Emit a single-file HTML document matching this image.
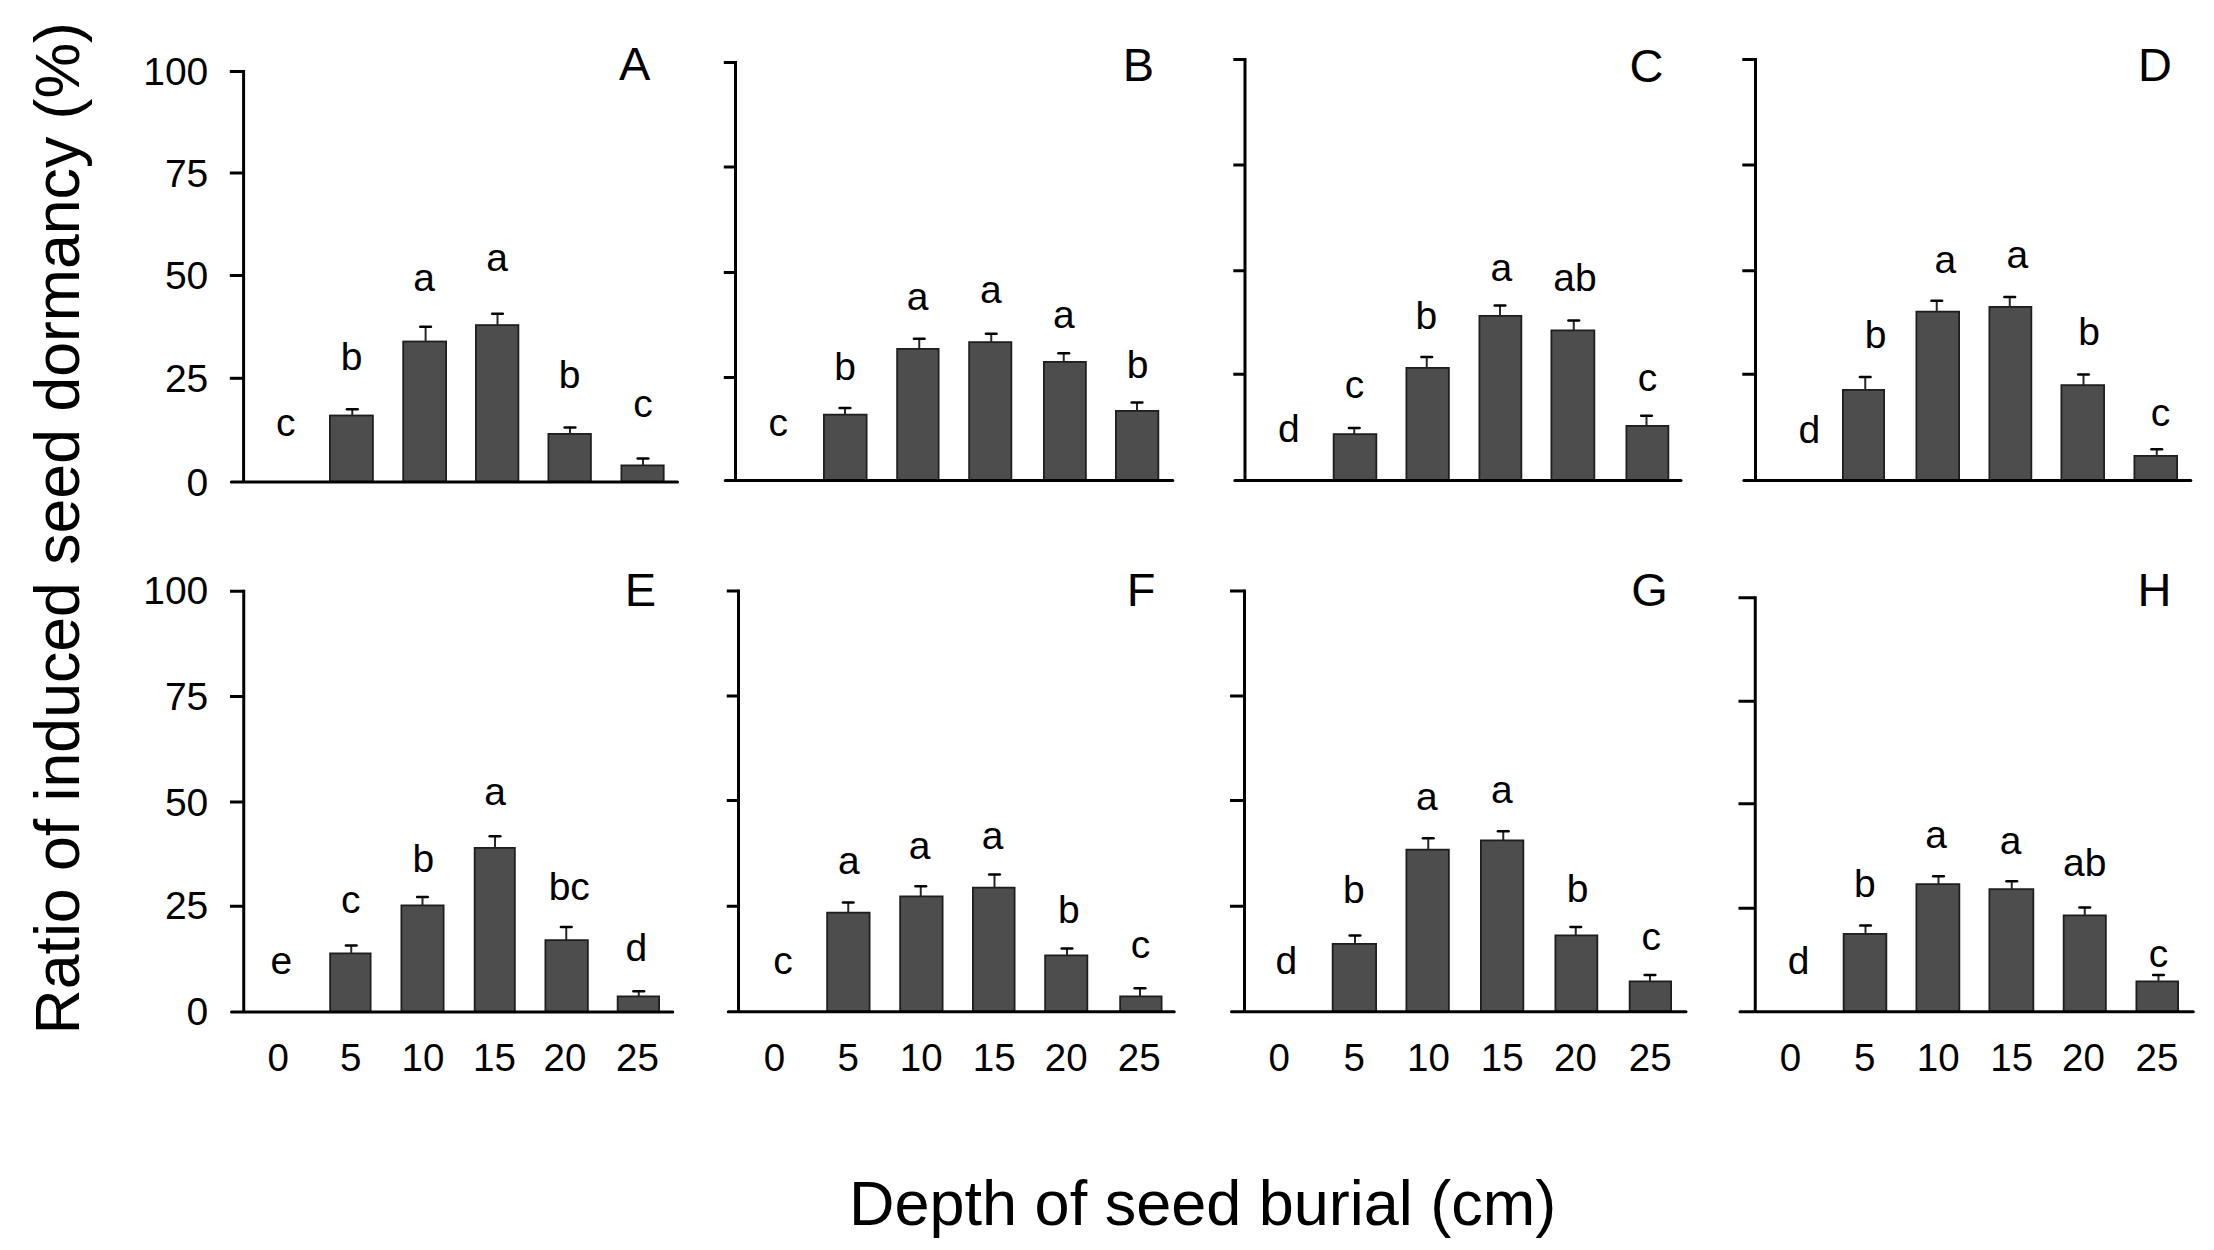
<!DOCTYPE html>
<html lang="en"><head><meta charset="utf-8"><title>Ratio of induced seed dormancy vs depth of seed burial</title>
<style>html,body{margin:0;padding:0;background:#fff;}body{width:2214px;height:1250px;overflow:hidden;}svg{display:block;}text{font-family:"Liberation Sans",Arial,Helvetica,sans-serif;fill:#000;}.ax{stroke:#000;stroke-width:3;fill:none;stroke-linecap:butt;}.xax{stroke:#000;stroke-width:3;fill:none;stroke-linecap:round;}.bar{fill:#4d4d4d;stroke:#1e1e1e;stroke-width:1.8;}.es{stroke:#262626;stroke-width:2;fill:none;}.ec{stroke:#000;stroke-width:2.6;fill:none;stroke-linecap:round;}.sl{font-size:39px;text-anchor:middle;}.tl{font-size:39px;text-anchor:end;}.xl{font-size:38.5px;text-anchor:middle;}.pl{font-size:47px;text-anchor:middle;}.at{font-size:63px;}</style></head><body>
<svg width="2214" height="1250" viewBox="0 0 2214 1250">
<rect x="0" y="0" width="2214" height="1250" fill="#ffffff"/>
<g id="panel-A">
<rect class="bar" x="329.9" y="415.5" width="43" height="66.5"/>
<rect class="bar" x="403.2" y="341.5" width="42.9" height="140.5"/>
<rect class="bar" x="475.9" y="325.1" width="42.5" height="156.9"/>
<rect class="bar" x="548.4" y="433.9" width="42.5" height="48.1"/>
<rect class="bar" x="621.4" y="465.4" width="42.3" height="16.6"/>
<path class="es" d="M352.3 409.3V415.6"/>
<path class="ec" d="M347 409.3H357.6"/>
<path class="es" d="M425.6 326.8V341.6"/>
<path class="ec" d="M420.3 326.8H430.9"/>
<path class="es" d="M497.5 313.8V325.2"/>
<path class="ec" d="M492.2 313.8H502.8"/>
<path class="es" d="M570 427.5V434"/>
<path class="ec" d="M564.7 427.5H575.3"/>
<path class="es" d="M643 458.5V465.5"/>
<path class="ec" d="M637.7 458.5H648.3"/>
<path class="ax" d="M243.6 70V482"/>
<path class="xax" d="M231.3 482H677.5"/>
<path class="ax" d="M229.8 71.5H243.6"/>
<path class="ax" d="M229.8 173H243.6"/>
<path class="ax" d="M229.8 275.5H243.6"/>
<path class="ax" d="M229.8 378.3H243.6"/>
<text class="sl" x="285.75" y="435.5">c</text>
<text class="sl" x="351.5" y="370">b</text>
<text class="sl" x="424" y="290.5">a</text>
<text class="sl" x="497" y="270.5">a</text>
<text class="sl" x="569.5" y="388">b</text>
<text class="sl" x="643" y="417">c</text>
</g>
<g id="panel-B">
<rect class="bar" x="823.9" y="414.65" width="42.7" height="65.95"/>
<rect class="bar" x="897.15" y="348.9" width="41.45" height="131.7"/>
<rect class="bar" x="969.15" y="342.15" width="42.2" height="138.45"/>
<rect class="bar" x="1043.9" y="361.9" width="41.95" height="118.7"/>
<rect class="bar" x="1115.9" y="410.9" width="42.45" height="69.7"/>
<path class="es" d="M845 408V414.75"/>
<path class="ec" d="M839.7 408H850.3"/>
<path class="es" d="M919.25 338.75V349"/>
<path class="ec" d="M913.95 338.75H924.55"/>
<path class="es" d="M991.25 333.75V342.25"/>
<path class="ec" d="M985.95 333.75H996.55"/>
<path class="es" d="M1063.75 353.25V362"/>
<path class="ec" d="M1058.45 353.25H1069.05"/>
<path class="es" d="M1137 402.5V411"/>
<path class="ec" d="M1131.7 402.5H1142.3"/>
<path class="ax" d="M735.5 61V480.6"/>
<path class="xax" d="M725.3 480.6H1172.8"/>
<path class="ax" d="M723.8 62.5H735.5"/>
<path class="ax" d="M723.8 167H735.5"/>
<path class="ax" d="M723.8 272.5H735.5"/>
<path class="ax" d="M723.8 377.5H735.5"/>
<text class="sl" x="778.25" y="436.25">c</text>
<text class="sl" x="845" y="379.5">b</text>
<text class="sl" x="917.5" y="310">a</text>
<text class="sl" x="990.75" y="303.25">a</text>
<text class="sl" x="1063.75" y="328.25">a</text>
<text class="sl" x="1137.5" y="378.25">b</text>
</g>
<g id="panel-C">
<rect class="bar" x="1333.65" y="434.15" width="42.7" height="46.45"/>
<rect class="bar" x="1406.4" y="367.9" width="42.45" height="112.7"/>
<rect class="bar" x="1479.4" y="315.9" width="41.95" height="164.7"/>
<rect class="bar" x="1551.4" y="330.4" width="42.95" height="150.2"/>
<rect class="bar" x="1626.4" y="425.9" width="41.95" height="54.7"/>
<path class="es" d="M1354.25 428V434.25"/>
<path class="ec" d="M1348.95 428H1359.55"/>
<path class="es" d="M1426.75 357V368"/>
<path class="ec" d="M1421.45 357H1432.05"/>
<path class="es" d="M1500 305.5V316"/>
<path class="ec" d="M1494.7 305.5H1505.3"/>
<path class="es" d="M1573.75 320.5V330.5"/>
<path class="ec" d="M1568.45 320.5H1579.05"/>
<path class="es" d="M1646.5 415.75V426"/>
<path class="ec" d="M1641.2 415.75H1651.8"/>
<path class="ax" d="M1245 58V480.6"/>
<path class="xax" d="M1234.8 480.6H1681"/>
<path class="ax" d="M1233.3 59.5H1245"/>
<path class="ax" d="M1233.3 165H1245"/>
<path class="ax" d="M1233.3 270.75H1245"/>
<path class="ax" d="M1233.3 374.25H1245"/>
<text class="sl" x="1288.75" y="442">d</text>
<text class="sl" x="1354.5" y="398">c</text>
<text class="sl" x="1426.25" y="328.75">b</text>
<text class="sl" x="1501.25" y="280.5">a</text>
<text class="sl" x="1575" y="291.25">ab</text>
<text class="sl" x="1647.5" y="391.25">c</text>
</g>
<g id="panel-D">
<rect class="bar" x="1842.9" y="389.9" width="41.2" height="90.7"/>
<rect class="bar" x="1916.4" y="311.65" width="42.7" height="168.95"/>
<rect class="bar" x="1989.4" y="306.9" width="41.95" height="173.7"/>
<rect class="bar" x="2061.4" y="385.15" width="42.7" height="95.45"/>
<rect class="bar" x="2134.4" y="455.9" width="42.7" height="24.7"/>
<path class="es" d="M1865.25 377V390"/>
<path class="ec" d="M1859.95 377H1870.55"/>
<path class="es" d="M1936.75 300.75V311.75"/>
<path class="ec" d="M1931.45 300.75H1942.05"/>
<path class="es" d="M2009.75 297V307"/>
<path class="ec" d="M2004.45 297H2015.05"/>
<path class="es" d="M2083.5 374.5V385.25"/>
<path class="ec" d="M2078.2 374.5H2088.8"/>
<path class="es" d="M2156.75 449.25V456"/>
<path class="ec" d="M2151.45 449.25H2162.05"/>
<path class="ax" d="M1755.5 58V480.6"/>
<path class="xax" d="M1743.8 480.6H2190.8"/>
<path class="ax" d="M1742.3 59.5H1755.5"/>
<path class="ax" d="M1742.3 165H1755.5"/>
<path class="ax" d="M1742.3 270.75H1755.5"/>
<path class="ax" d="M1742.3 374.25H1755.5"/>
<text class="sl" x="1809.25" y="443.25">d</text>
<text class="sl" x="1875.5" y="347.5">b</text>
<text class="sl" x="1945.25" y="273.25">a</text>
<text class="sl" x="2017.25" y="268.25">a</text>
<text class="sl" x="2089" y="344.5">b</text>
<text class="sl" x="2160.5" y="425.75">c</text>
</g>
<g id="panel-E">
<rect class="bar" x="330.15" y="953.4" width="40.45" height="58.6"/>
<rect class="bar" x="401.4" y="905.4" width="42.2" height="106.6"/>
<rect class="bar" x="474.65" y="847.9" width="40.2" height="164.1"/>
<rect class="bar" x="545.4" y="940.15" width="42.45" height="71.85"/>
<rect class="bar" x="617.65" y="996.4" width="41.45" height="15.6"/>
<path class="es" d="M351.25 945.5V953.5"/>
<path class="ec" d="M345.95 945.5H356.55"/>
<path class="es" d="M422.5 897V905.5"/>
<path class="ec" d="M417.2 897H427.8"/>
<path class="es" d="M495 836.25V848"/>
<path class="ec" d="M489.7 836.25H500.3"/>
<path class="es" d="M566.25 927V940.25"/>
<path class="ec" d="M560.95 927H571.55"/>
<path class="es" d="M638.75 991.25V996.5"/>
<path class="ec" d="M633.45 991.25H644.05"/>
<path class="ax" d="M243.75 589.75V1012"/>
<path class="xax" d="M231.5 1012H672.75"/>
<path class="ax" d="M230 591.25H243.75"/>
<path class="ax" d="M230 696.5H243.75"/>
<path class="ax" d="M230 802H243.75"/>
<path class="ax" d="M230 906.25H243.75"/>
<text class="sl" x="281.25" y="973.75">e</text>
<text class="sl" x="350.75" y="912.5">c</text>
<text class="sl" x="423.25" y="872">b</text>
<text class="sl" x="495" y="804.5">a</text>
<text class="sl" x="569.25" y="900">bc</text>
<text class="sl" x="636.25" y="960.5">d</text>
<text class="xl" x="278.25" y="1071.3">0</text>
<text class="xl" x="350.75" y="1071.3">5</text>
<text class="xl" x="423" y="1071.3">10</text>
<text class="xl" x="494.5" y="1071.3">15</text>
<text class="xl" x="565" y="1071.3">20</text>
<text class="xl" x="637.5" y="1071.3">25</text>
</g>
<g id="panel-F">
<rect class="bar" x="827.15" y="912.65" width="42.45" height="99.1"/>
<rect class="bar" x="900.15" y="896.4" width="42.45" height="115.35"/>
<rect class="bar" x="972.9" y="887.65" width="41.7" height="124.1"/>
<rect class="bar" x="1045.15" y="955.4" width="42.2" height="56.35"/>
<rect class="bar" x="1120.15" y="996.4" width="41.45" height="15.35"/>
<path class="es" d="M848.25 902.5V912.75"/>
<path class="ec" d="M842.95 902.5H853.55"/>
<path class="es" d="M920.75 886.25V896.5"/>
<path class="ec" d="M915.45 886.25H926.05"/>
<path class="es" d="M994.5 874.5V887.75"/>
<path class="ec" d="M989.2 874.5H999.8"/>
<path class="es" d="M1067 948.5V955.5"/>
<path class="ec" d="M1061.7 948.5H1072.3"/>
<path class="es" d="M1140 988.25V996.5"/>
<path class="ec" d="M1134.7 988.25H1145.3"/>
<path class="ax" d="M738.5 589.5V1011.75"/>
<path class="xax" d="M728.25 1011.75H1174.25"/>
<path class="ax" d="M726.75 591H738.5"/>
<path class="ax" d="M726.75 696H738.5"/>
<path class="ax" d="M726.75 800.5H738.5"/>
<path class="ax" d="M726.75 906.25H738.5"/>
<text class="sl" x="783" y="973.75">c</text>
<text class="sl" x="848.75" y="873.75">a</text>
<text class="sl" x="919.5" y="858.75">a</text>
<text class="sl" x="992.5" y="848.75">a</text>
<text class="sl" x="1068.75" y="922.5">b</text>
<text class="sl" x="1140.5" y="958">c</text>
<text class="xl" x="774.5" y="1071.3">0</text>
<text class="xl" x="848.25" y="1071.3">5</text>
<text class="xl" x="921.25" y="1071.3">10</text>
<text class="xl" x="994.25" y="1071.3">15</text>
<text class="xl" x="1066.25" y="1071.3">20</text>
<text class="xl" x="1139.25" y="1071.3">25</text>
</g>
<g id="panel-G">
<rect class="bar" x="1332.65" y="943.9" width="43.45" height="67.85"/>
<rect class="bar" x="1406.4" y="849.65" width="42.45" height="162.1"/>
<rect class="bar" x="1480.9" y="840.4" width="42.45" height="171.35"/>
<rect class="bar" x="1555.4" y="935.4" width="41.95" height="76.35"/>
<rect class="bar" x="1629.65" y="981.4" width="41.45" height="30.35"/>
<path class="es" d="M1355 935.5V944"/>
<path class="ec" d="M1349.7 935.5H1360.3"/>
<path class="es" d="M1428.25 838.25V849.75"/>
<path class="ec" d="M1422.95 838.25H1433.55"/>
<path class="es" d="M1503.25 831.25V840.5"/>
<path class="ec" d="M1497.95 831.25H1508.55"/>
<path class="es" d="M1575.75 927V935.5"/>
<path class="ec" d="M1570.45 927H1581.05"/>
<path class="es" d="M1650 975V981.5"/>
<path class="ec" d="M1644.7 975H1655.3"/>
<path class="ax" d="M1244.5 589.5V1011.75"/>
<path class="xax" d="M1231.5 1011.75H1686"/>
<path class="ax" d="M1230 591H1244.5"/>
<path class="ax" d="M1230 696H1244.5"/>
<path class="ax" d="M1230 800.5H1244.5"/>
<path class="ax" d="M1230 906.25H1244.5"/>
<text class="sl" x="1286.25" y="973.75">d</text>
<text class="sl" x="1353.75" y="903">b</text>
<text class="sl" x="1426.75" y="809.5">a</text>
<text class="sl" x="1501.75" y="803">a</text>
<text class="sl" x="1577.5" y="901.75">b</text>
<text class="sl" x="1651.25" y="950">c</text>
<text class="xl" x="1279.25" y="1071.3">0</text>
<text class="xl" x="1354.25" y="1071.3">5</text>
<text class="xl" x="1428.5" y="1071.3">10</text>
<text class="xl" x="1502.25" y="1071.3">15</text>
<text class="xl" x="1575.5" y="1071.3">20</text>
<text class="xl" x="1650.25" y="1071.3">25</text>
</g>
<g id="panel-H">
<rect class="bar" x="1843.65" y="933.9" width="42.7" height="77.85"/>
<rect class="bar" x="1916.4" y="884.15" width="42.95" height="127.6"/>
<rect class="bar" x="1989.4" y="889.15" width="43.95" height="122.6"/>
<rect class="bar" x="2063.65" y="915.4" width="42.2" height="96.35"/>
<rect class="bar" x="2136.4" y="981.4" width="41.7" height="30.35"/>
<path class="es" d="M1865.5 925.5V934"/>
<path class="ec" d="M1860.2 925.5H1870.8"/>
<path class="es" d="M1938.5 876.25V884.25"/>
<path class="ec" d="M1933.2 876.25H1943.8"/>
<path class="es" d="M2011.75 881.25V889.25"/>
<path class="ec" d="M2006.45 881.25H2017.05"/>
<path class="es" d="M2084.75 907.5V915.5"/>
<path class="ec" d="M2079.45 907.5H2090.05"/>
<path class="es" d="M2158.5 975V981.5"/>
<path class="ec" d="M2153.2 975H2163.8"/>
<path class="ax" d="M1755.25 596.25V1011.75"/>
<path class="xax" d="M1740 1011.75H2193.25"/>
<path class="ax" d="M1738.5 597.75H1755.25"/>
<path class="ax" d="M1738.5 701.25H1755.25"/>
<path class="ax" d="M1738.5 803.75H1755.25"/>
<path class="ax" d="M1738.5 908.25H1755.25"/>
<text class="sl" x="1798.5" y="973.75">d</text>
<text class="sl" x="1864.75" y="896.75">b</text>
<text class="sl" x="1936" y="848.25">a</text>
<text class="sl" x="2010.5" y="853.75">a</text>
<text class="sl" x="2084.75" y="876.25">ab</text>
<text class="sl" x="2158.5" y="967">c</text>
<text class="xl" x="1790.5" y="1071.3">0</text>
<text class="xl" x="1864.75" y="1071.3">5</text>
<text class="xl" x="1938.25" y="1071.3">10</text>
<text class="xl" x="2011.75" y="1071.3">15</text>
<text class="xl" x="2083.5" y="1071.3">20</text>
<text class="xl" x="2157" y="1071.3">25</text>
</g>
<text class="pl" x="634.6" y="80.2">A</text>
<text class="pl" x="1138.5" y="81.2">B</text>
<text class="pl" x="1646.5" y="81.5">C</text>
<text class="pl" x="2155" y="81.2">D</text>
<text class="pl" x="640.5" y="606">E</text>
<text class="pl" x="1141" y="606">F</text>
<text class="pl" x="1649.5" y="606">G</text>
<text class="pl" x="2154.4" y="606">H</text>
<text class="tl" x="208.3" y="85.4">100</text>
<text class="tl" x="208.3" y="186.9">75</text>
<text class="tl" x="208.3" y="289.4">50</text>
<text class="tl" x="208.3" y="392.2">25</text>
<text class="tl" x="208.3" y="495.9">0</text>
<text class="tl" x="208.3" y="604.35">100</text>
<text class="tl" x="208.3" y="709.6">75</text>
<text class="tl" x="208.3" y="815.6">50</text>
<text class="tl" x="208.3" y="919.1">25</text>
<text class="tl" x="208.3" y="1024.6">0</text>
<text class="at" style="font-size:62.6px" transform="translate(78.6 1034.5) rotate(-90)" x="0" y="0">Ratio of induced seed dormancy (%)</text>
<text class="at" x="849" y="1225.1">Depth of seed burial (cm)</text>
</svg></body></html>
